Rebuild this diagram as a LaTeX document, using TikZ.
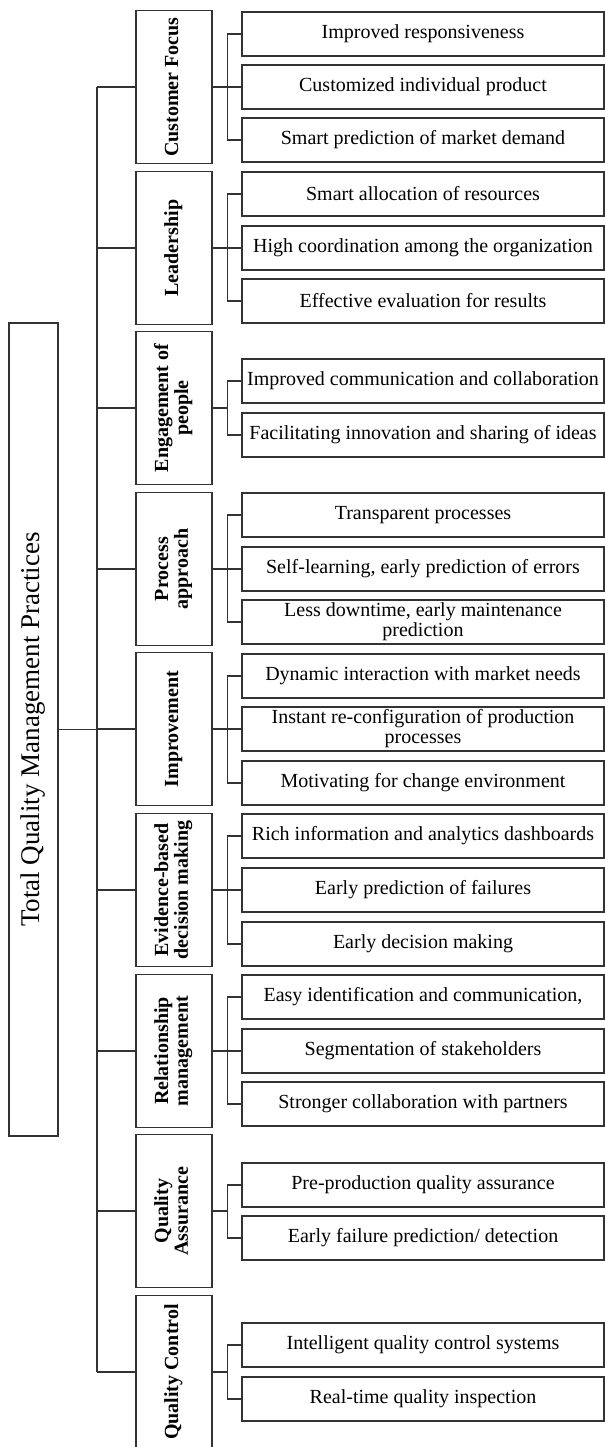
\documentclass[tikz,border=0pt]{standalone}
\usepackage{fontspec}
\setmainfont{Liberation Serif}
\usetikzlibrary{calc}

% upright two-line text for the category boxes
\newcommand{\uptext}[1]{\rotatebox{90}{\fontsize{10}{10}\selectfont\begin{tabular}{@{}c@{}}#1\end{tabular}}}

\begin{document}
\begin{tikzpicture}[
    x=0.5pt, y=-0.5pt,           % one unit is one pixel of the reference, y runs down
    line width=0.7pt,
    link/.style={draw=black!80},
    mainbox/.style={
        draw=black!80,
        rectangle,
        minimum width=24.5pt,
        minimum height=406.5pt,
        inner sep=0pt
    },
    catbox/.style={
        draw=black!80,
        rectangle,
        font=\bfseries,
        minimum width=38pt,      % narrow upright box
        minimum height=76.5pt,
        inner sep=0pt
    },
    leafbox/.style={
        draw=black!80,
        rectangle,
        align=center,
        font=\fontsize{10}{10}\selectfont,
        minimum width=181pt,
        minimum height=22pt,
        inner sep=1pt
    }
]
    \useasboundingbox (0,0) rectangle (605,1447);
    \clip (0,0) rectangle (605,1447);

    % root
    \node[mainbox] (tqm) at (33.5,729.5)
        {\rotatebox{90}{\fontsize{13.5}{14}\selectfont Total Quality Management Practices}};

    % categories
    \node[catbox] (cf)   at (174,87)   {\uptext{Customer Focus}};
    \node[catbox] (lead) at (174,248)  {\uptext{Leadership}};
    \node[catbox] (eng)  at (174,408)  {\uptext{Engagement of\\people}};
    \node[catbox] (proc) at (174,569)  {\uptext{Process\\approach}};
    \node[catbox] (impr) at (174,729)  {\uptext{Improvement}};
    \node[catbox] (evid) at (174,890)  {\uptext{Evidence-based\\decision making}};
    \node[catbox] (rel)  at (174,1051) {\uptext{Relationship\\management}};
    \node[catbox] (qa)   at (174,1211) {\uptext{Quality\\Assurance}};
    \node[catbox] (qc)   at (174,1372) {\uptext{Quality Control}};

    % leaves
    \node[leafbox] (cf1) at (423,34)  {Improved responsiveness};
    \node[leafbox] (cf2) at (423,87)  {Customized individual product};
    \node[leafbox] (cf3) at (423,140) {Smart prediction of market demand};

    \node[leafbox] (lead1) at (423,194) {Smart allocation of resources};
    \node[leafbox] (lead2) at (423,248) {High coordination among the organization};
    \node[leafbox] (lead3) at (423,301) {Effective evaluation for results};

    \node[leafbox] (eng1) at (423,381) {Improved communication and collaboration};
    \node[leafbox] (eng2) at (423,435) {Facilitating innovation and sharing of ideas};

    \node[leafbox] (proc1) at (423,515) {Transparent processes};
    \node[leafbox] (proc2) at (423,569) {Self-learning, early prediction of errors};
    \node[leafbox] (proc3) at (423,622) {Less downtime, early maintenance\\prediction};

    \node[leafbox] (impr1) at (423,676) {Dynamic interaction with market needs};
    \node[leafbox] (impr2) at (423,729) {Instant re-configuration of production\\processes};
    \node[leafbox] (impr3) at (423,783) {Motivating for change environment};

    \node[leafbox] (evid1) at (423,836) {Rich information and analytics dashboards};
    \node[leafbox] (evid2) at (423,890) {Early prediction of failures};
    \node[leafbox] (evid3) at (423,944) {Early decision making};

    \node[leafbox] (rel1) at (423,997)  {Easy identification and communication,};
    \node[leafbox] (rel2) at (423,1051) {Segmentation of stakeholders};
    \node[leafbox] (rel3) at (423,1104) {Stronger collaboration with partners};

    \node[leafbox] (qa1) at (423,1185) {Pre-production quality assurance};
    \node[leafbox] (qa2) at (423,1238) {Early failure prediction/ detection};

    \node[leafbox] (qc1) at (423,1345) {Intelligent quality control systems};
    \node[leafbox] (qc2) at (423,1399) {Real-time quality inspection};

    % trunk from the root to every category
    \coordinate (trunk) at (97,0);
    \draw[link] (tqm.east) -- (tqm.east -| trunk);
    \draw[link] (trunk |- cf.west) -- (trunk |- qc.west);
    \foreach \c in {cf,lead,eng,proc,impr,evid,rel,qa,qc}
        \draw[link] (trunk |- \c.west) -- (\c.west);

    % brackets from each category to its leaves
    \draw[link] (cf.east) -- ++(15,0) coordinate (cfb) (cfb) |- (cf1.west) (cfb) |- (cf3.west) (cfb) -- (cf2.west);
    \draw[link] (lead.east) -- ++(15,0) coordinate (leadb) (leadb) |- (lead1.west) (leadb) |- (lead3.west) (leadb) -- (lead2.west);
    \draw[link] (eng.east) -- ++(15,0) coordinate (engb) (engb) |- (eng1.west) (engb) |- (eng2.west);
    \draw[link] (proc.east) -- ++(15,0) coordinate (procb) (procb) |- (proc1.west) (procb) |- (proc3.west) (procb) -- (proc2.west);
    \draw[link] (impr.east) -- ++(15,0) coordinate (imprb) (imprb) |- (impr1.west) (imprb) |- (impr3.west) (imprb) -- (impr2.west);
    \draw[link] (evid.east) -- ++(15,0) coordinate (evidb) (evidb) |- (evid1.west) (evidb) |- (evid3.west) (evidb) -- (evid2.west);
    \draw[link] (rel.east) -- ++(15,0) coordinate (relb) (relb) |- (rel1.west) (relb) |- (rel3.west) (relb) -- (rel2.west);
    \draw[link] (qa.east) -- ++(15,0) coordinate (qab) (qab) |- (qa1.west) (qab) |- (qa2.west);
    \draw[link] (qc.east) -- ++(15,0) coordinate (qcb) (qcb) |- (qc1.west) (qcb) |- (qc2.west);
\end{tikzpicture}
\end{document}
